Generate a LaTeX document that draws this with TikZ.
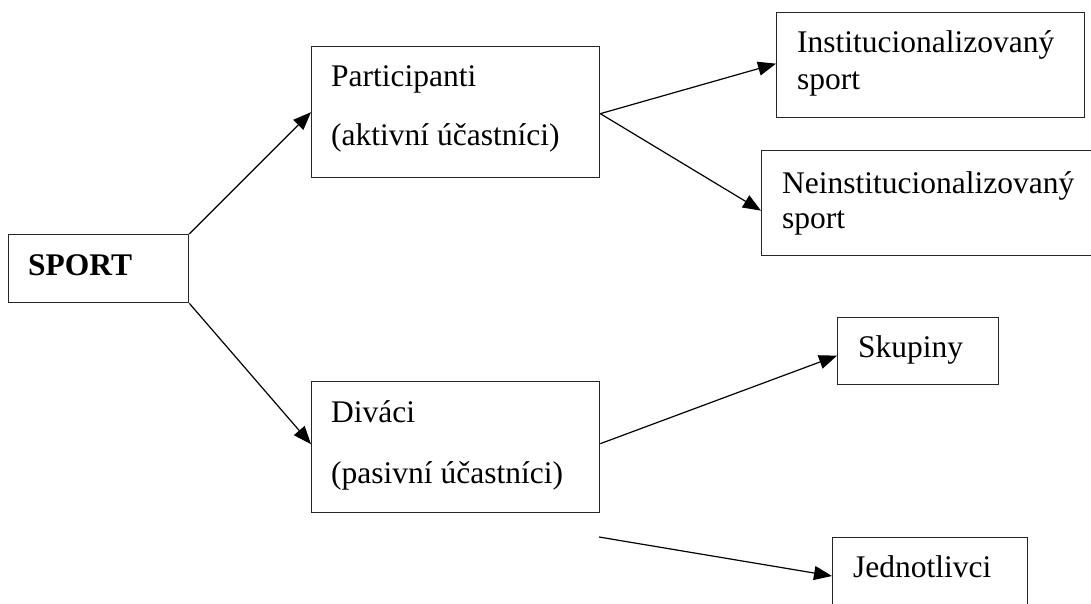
\documentclass[tikz,border=0pt]{standalone}
\usepackage{fontspec}
\setmainfont{Liberation Serif}
\usetikzlibrary{arrows.meta,calc}
\begin{document}
\begin{tikzpicture}[x=1pt,y=-1pt,
  box/.style={draw=black!85, line width=1.3pt, rectangle, inner sep=0pt, anchor=north west},
  lbl/.style={anchor=base west, inner sep=0pt, font=\fontsize{31.5}{36}\selectfont},
  conn/.style={line width=1.2pt, -{Triangle[length=18pt,width=14pt]}}]
\useasboundingbox (0,0) rectangle (1091,603);
\clip (0,0) rectangle (1091,603);
% boxes
\node[box, minimum width=180pt, minimum height=68pt] (sport) at (8,234) {};
\node[box, minimum width=288pt, minimum height=131pt] (part) at (311,46) {};
\node[box, minimum width=288pt, minimum height=131pt] (div) at (311,381) {};
\node[box, minimum width=308pt, minimum height=105pt] (inst) at (776,12) {};
\node[box, minimum width=340pt, minimum height=105pt] (neinst) at (761,150) {};
\node[box, minimum width=161pt, minimum height=67pt] (skup) at (837,317) {};
\node[box, minimum width=195pt, minimum height=90pt] (jedn) at (832,537) {};
% texts
\node[lbl, font=\fontsize{31.5}{36}\selectfont\bfseries] (tsport) at (28,275) {SPORT};
\node[lbl] (tpart1) at (331,86) {Participanti};
\node[lbl] (tpart2) at (331,145) {(aktivní účastníci)};
\node[lbl] (tdiv1) at (331,422) {Diváci};
\node[lbl] (tdiv2) at (331,483) {(pasivní účastníci)};
\node[lbl] (tinst1) at (797,52) {Institucionalizovaný};
\node[lbl] (tinst2) at (797,89) {sport};
\node[lbl] (tne1) at (782,193) {Neinstitucionalizovaný};
\node[lbl] (tne2) at (782,228) {sport};
\node[lbl] (tskup) at (858,357) {Skupiny};
\node[lbl] (tjedn) at (853,577) {Jednotlivci};
% connectors
\coordinate (dfree) at (599,537);
\draw[conn] (sport.north east) -- (part.west);
\draw[conn] (sport.south east) -- ([yshift=3pt]div.west);
\draw[conn] ([yshift=-1.5pt]part.east) -- ([yshift=1.5pt]inst.west);
\draw[conn] ([yshift=-1.5pt]part.east) -- ([yshift=-7.5pt]neinst.west);
\draw[conn] ([yshift=3.5pt]div.east) -- ([yshift=-4.5pt]skup.west);
\draw[conn] (dfree) -- ([yshift=-39pt]jedn.north west);
\end{tikzpicture}
\end{document}
